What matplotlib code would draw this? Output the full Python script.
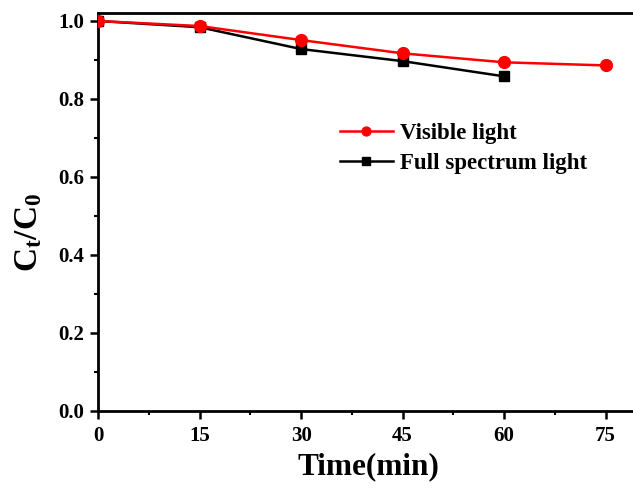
import matplotlib
matplotlib.use("Agg")
import matplotlib.pyplot as plt
from matplotlib.ticker import MultipleLocator

plt.rcParams['font.family'] = 'Liberation Serif'
plt.rcParams['font.weight'] = 'bold'
plt.rcParams['mathtext.fontset'] = 'custom'
plt.rcParams['mathtext.rm'] = 'Liberation Serif:bold'
plt.rcParams['mathtext.it'] = 'Liberation Serif:bold'
plt.rcParams['mathtext.bf'] = 'Liberation Serif:bold'

# Ct/C0 over time for both light sources
t_visible = [0, 15, 30, 45, 60, 75]
c_visible = [1.0, 0.987, 0.951, 0.917, 0.894, 0.886]
t_full = [0, 15, 30, 45, 60]
c_full = [1.0, 0.984, 0.928, 0.897, 0.858]

fig = plt.figure(figsize=(6.33, 4.88), dpi=100)
ax = fig.add_axes([0.155, 0.158, 0.855, 0.815])

ax.plot(t_visible, c_visible, color='#ff0000', marker='o', markersize=8.5, lw=1.8, label='Visible light', zorder=3)
ax.plot(t_full, c_full, color='black', marker='s', markersize=7, lw=1.8, label='Full spectrum light', zorder=2)

ax.set_xlim(0, 80)
ax.set_ylim(0, 1.02)
ax.xaxis.set_major_locator(MultipleLocator(15))
ax.xaxis.set_minor_locator(MultipleLocator(7.5))
ax.yaxis.set_major_locator(MultipleLocator(0.2))
ax.yaxis.set_minor_locator(MultipleLocator(0.1))
ax.yaxis.set_major_formatter(plt.FormatStrFormatter('%.1f'))

for s in ax.spines.values():
    s.set_linewidth(2)
ax.tick_params(which='major', direction='out', length=6, width=1.8, labelsize=15)
ax.tick_params(which='minor', direction='out', length=3, width=1.5)
ax.tick_params(axis='x', which='major', pad=5)
ax.tick_params(axis='y', which='major', pad=4)

ax.set_xlabel('Time(min)', fontsize=22.5, fontweight='bold', labelpad=4)
ax.set_ylabel(r'$\mathrm{C_t/C_0}$', fontsize=24)
ax.yaxis.set_label_coords(-0.1, 0.45)

ax.legend(loc='upper left', bbox_to_anchor=(0.447, 0.725), frameon=False,
          fontsize=16.5, handlelength=2.3, handletextpad=0.3, labelspacing=0.4,
          borderpad=0, borderaxespad=0, markerscale=0.75)

fig.savefig('out.png', dpi=100)
